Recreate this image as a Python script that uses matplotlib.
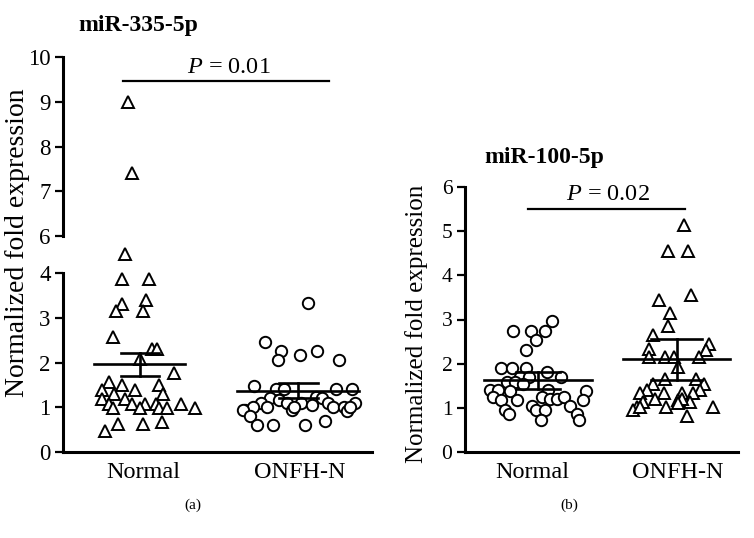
import numpy as np
import matplotlib
matplotlib.use('Agg')
import matplotlib.pyplot as plt

plt.rcParams['font.family'] = ['Liberation Serif', 'DejaVu Serif']
plt.rcParams['mathtext.fontset'] = 'custom'
plt.rcParams['mathtext.rm'] = 'Liberation Serif'
plt.rcParams['mathtext.it'] = 'Liberation Serif:italic'

# ---- datos ----
groups = ['Normal', 'ONFH-N']

# (a) miR-335-5p
a_normal_x = [0.906, 0.93, 0.885, 0.864, 1.04, 0.864, 0.83, 1.02, 1.0, 0.81, 1.055, 1.087, 0.98,
              1.20, 0.785, 0.864, 1.10, 0.74, 0.95, 1.13, 0.815, 0.74, 0.885, 0.785, 0.93, 1.01,
              1.08, 1.24, 0.81, 0.98, 1.10, 1.155, 1.33, 0.76, 0.84, 1.0, 1.12]
a_normal_y = [9.0, 7.4, 4.43, 3.86, 3.86, 3.31, 3.16, 3.40, 3.16, 2.58, 2.30, 2.30, 2.07,
              1.77, 1.57, 1.50, 1.50, 1.39, 1.39, 1.30, 1.30, 1.18, 1.18, 1.07, 1.07, 1.07,
              1.07, 1.07, 0.98, 0.98, 0.98, 0.98, 0.98, 0.48, 0.63, 0.63, 0.68]
a_onfh_x = [2.05, 1.78, 1.88, 1.86, 2.0, 2.11, 2.25, 1.71, 1.85, 1.90, 2.23, 2.33, 1.81,
            2.10, 2.14, 1.87, 1.92, 2.01, 2.08, 1.75, 2.18, 2.35, 1.65, 1.70, 1.79, 1.95,
            1.96, 2.21, 2.28, 2.30, 2.32, 1.64, 1.68, 1.73, 1.83, 2.03, 2.16]
a_onfh_y = [3.33, 2.45, 2.27, 2.06, 2.17, 2.26, 2.06, 1.48, 1.40, 1.40, 1.40, 1.40, 1.20,
            1.24, 1.20, 1.16, 1.09, 1.09, 1.05, 1.09, 1.09, 1.09, 0.95, 1.00, 1.00, 0.94,
            1.01, 1.00, 1.00, 0.92, 1.00, 0.94, 0.81, 0.60, 0.60, 0.60, 0.70]
a_mean = [1.96, 1.37]
a_upper = [2.21, 1.54]
a_lower = [1.70, 1.20]
a_p = 'P = 0.01'

# (b) miR-100-5p
b_normal_x = [1.135, 0.87, 0.99, 1.09, 1.03, 0.96, 0.785, 0.86, 0.96, 1.10, 1.20, 0.92, 0.98,
              0.83, 0.88, 0.94, 1.11, 0.71, 0.77, 0.85, 1.37, 0.735, 1.07, 1.12, 1.17, 1.22,
              0.895, 0.79, 1.35, 1.0, 1.26, 0.815, 1.03, 1.09, 0.84, 1.31, 1.06, 1.32]
b_normal_y = [2.97, 2.74, 2.74, 2.74, 2.53, 2.31, 1.91, 1.91, 1.91, 1.81, 1.69, 1.70, 1.69,
              1.59, 1.59, 1.55, 1.41, 1.40, 1.40, 1.38, 1.38, 1.25, 1.25, 1.19, 1.19, 1.25,
              1.17, 1.17, 1.17, 1.04, 1.04, 0.95, 0.95, 0.95, 0.85, 0.85, 0.73, 0.73]
b_onfh_x = [2.04, 1.93, 2.07, 1.87, 2.09, 1.945, 1.93, 1.83, 2.21, 2.19, 1.80, 1.80, 1.91,
            1.97, 2.14, 2.0, 1.91, 2.12, 2.18, 2.15, 1.83, 1.79, 1.74, 1.90, 2.03, 2.10,
            1.84, 1.76, 2.0, 2.08, 2.025, 1.72, 1.69, 1.92, 2.0, 2.24, 2.06, 1.74]
b_onfh_y = [5.14, 4.54, 4.54, 3.44, 3.55, 3.15, 2.85, 2.65, 2.44, 2.31, 2.34, 2.14, 2.14,
            2.15, 2.14, 1.93, 1.66, 1.66, 1.55, 1.40, 1.55, 1.41, 1.34, 1.34, 1.34, 1.34,
            1.21, 1.13, 1.17, 1.13, 1.21, 1.01, 0.95, 1.01, 1.10, 1.01, 0.81, 1.02]
b_mean = [1.64, 2.10]
b_upper = [1.81, 2.55]
b_lower = [1.42, 1.63]
b_p = 'P = 0.02'

# ---- estilo ----
W, H = 754, 538
LW_AX = 2.2
LW_BAR = 1.9
TRI = dict(marker='^', ms=8.6, mfc='white', mec='black', mew=1.4, ls='none', zorder=3)
CIR = dict(marker='o', ms=8.2, mfc='white', mec='black', mew=1.4, ls='none', zorder=3)

fig = plt.figure(figsize=(W / 100, H / 100), dpi=100)


def ejes_px(x0, y0, x1, y1):
    return fig.add_axes([x0 / W, 1 - y1 / H, (x1 - x0) / W, (y1 - y0) / H])


def estilo(ax, ylo, yhi, tick_fs, bottom=True):
    for s in ['top', 'right']:
        ax.spines[s].set_visible(False)
    ax.spines['left'].set_linewidth(LW_AX)
    ax.spines['left'].set_bounds(ylo, yhi)
    ax.spines['bottom'].set_linewidth(LW_AX)
    ax.spines['bottom'].set_visible(bottom)
    ax.set_yticks(np.arange(ylo, yhi + 1))
    ax.tick_params(axis='y', direction='out', length=6, width=1.6, pad=3, labelsize=tick_fs)
    ax.tick_params(axis='x', length=0, pad=7, labelsize=17.5)
    ax.patch.set_alpha(0)


def media_sem(ax, centers, mean, upper, lower, half_mean, half_cap):
    for i in range(2):
        c = centers[i]
        ax.plot([c - half_mean[i], c + half_mean[i]], [mean[i]] * 2, color='black', lw=LW_BAR, zorder=4)
        ax.plot([c - half_cap[i], c + half_cap[i]], [upper[i]] * 2, color='black', lw=LW_BAR, zorder=4)
        ax.plot([c - half_cap[i], c + half_cap[i]], [lower[i]] * 2, color='black', lw=LW_BAR, zorder=4)
        ax.plot([c, c], [lower[i], upper[i]], color='black', lw=LW_BAR, zorder=4)


def p_texto(s):
    return '$\\it{P}$' + s[1:]


# ---- (a) eje partido ----
ax_lo = ejes_px(63, 244, 372, 452)
ax_hi = ejes_px(63, 57, 372, 244)
ax_lo.set_ylim(0, (452 - 244) / 44.7)
ax_hi.set_ylim(6 - (244 - 236) / 44.75, 10)
for ax in (ax_lo, ax_hi):
    ax.set_xlim(0.49, 2.46)
estilo(ax_lo, 0, 4, 16.5)
estilo(ax_hi, 6, 10, 16.5, bottom=False)
ax_hi.set_xticks([])
ax_lo.set_xticks([1, 2])
ax_lo.set_xticklabels(groups)

nx = np.array(a_normal_x)
ny = np.array(a_normal_y)
alto = ny > 5
ax_lo.plot(nx[~alto], ny[~alto], clip_on=False, **TRI)
ax_hi.plot(nx[alto], ny[alto], clip_on=False, **TRI)
ax_lo.plot(a_onfh_x, a_onfh_y, clip_on=False, **CIR)
media_sem(ax_lo, [0.98, 1.99], a_mean, a_upper, a_lower, [0.29, 0.39], [0.12, 0.125])

ax_hi.plot([0.875, 2.186], [9.47, 9.47], color='black', lw=1.6)
ax_hi.text(1.55, 9.76, p_texto(a_p), ha='center', va='center', fontsize=17.5)

fig.text(138 / W, 1 - 25 / H, 'miR-335-5p', ha='center', va='center', fontsize=17, fontweight='bold')
fig.text(18 / W, 1 - 243 / H, 'Normalized fold expression', rotation=90,
         ha='center', va='center', fontsize=20)

# ---- (b) ----
ax_b = ejes_px(465, 187, 738, 452)
ax_b.set_ylim(0, 6)
ax_b.set_xlim(0.541, 2.41)
estilo(ax_b, 0, 6, 15.5)
ax_b.set_xticks([1, 2])
ax_b.set_xticklabels(groups)
ax_b.plot(b_normal_x, b_normal_y, clip_on=False, **CIR)
ax_b.plot(b_onfh_x, b_onfh_y, clip_on=False, **TRI)
media_sem(ax_b, [1.04, 1.99], b_mean, b_upper, b_lower, [0.37, 0.365], [0.15, 0.175])

ax_b.plot([0.97, 2.05], [5.5, 5.5], color='black', lw=1.6)
ax_b.text(1.52, 5.82, p_texto(b_p), ha='center', va='center', fontsize=17.5)

fig.text(544 / W, 1 - 157 / H, 'miR-100-5p', ha='center', va='center', fontsize=17, fontweight='bold')
fig.text(417 / W, 1 - 324 / H, 'Normalized fold expression', rotation=90,
         ha='center', va='center', fontsize=18)

fig.text(193 / W, 1 - 505 / H, '(a)', ha='center', va='center', fontsize=11)
fig.text(569 / W, 1 - 505 / H, '(b)', ha='center', va='center', fontsize=11)

fig.savefig('out.png', dpi=100, facecolor='white')
plt.close(fig)
